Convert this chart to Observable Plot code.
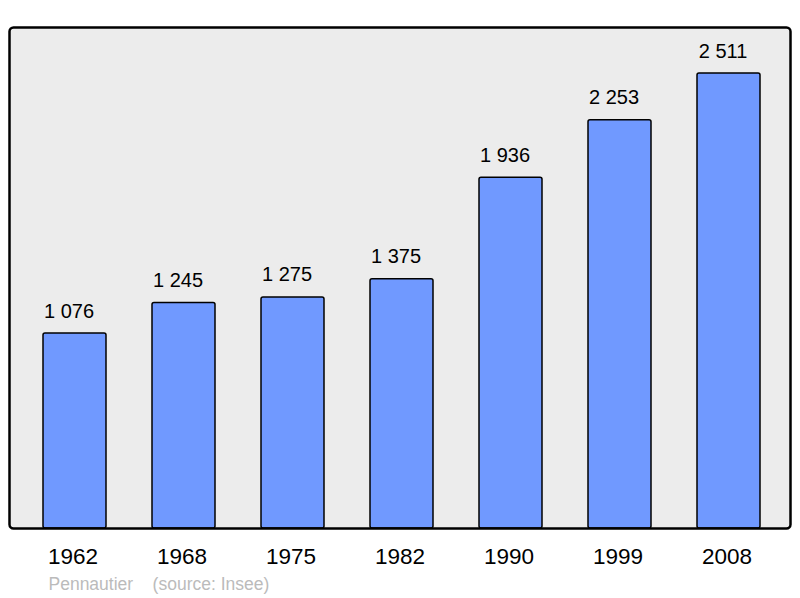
<!DOCTYPE html>
<html>
<head>
<meta charset="utf-8">
<script src="https://cdn.jsdelivr.net/npm/d3@7"></script>
<script src="https://cdn.jsdelivr.net/npm/@observablehq/plot@0.6"></script>
<style>
  html, body { margin: 0; padding: 0; background: #fff; }
  svg { font-family: "Liberation Sans", Arial, sans-serif; }
</style>
</head>
<body>
<div id="chart"></div>
<script>
const years = ["1962", "1968", "1975", "1982", "1990", "1999", "2008"];
const population = [1076, 1245, 1275, 1375, 1936, 2253, 2511];
const captionText = "Pennautier\u00a0\u00a0\u00a0\u00a0(source: Insee)";

const data = years.map((year, i) => ({year, value: population[i]}));
const fmt = d3.formatLocale({thousands: "\u00a0", grouping: [3], decimal: ","}).format(",");

const chart = Plot.plot({
  width: 800,
  height: 598,
  marginTop: 27,
  marginBottom: 70,
  marginLeft: 9,
  marginRight: 10,
  style: {fontFamily: '"Liberation Sans", Arial, sans-serif', background: "#fff"},
  x: {domain: years, range: [19, 784], paddingInner: 0.424, paddingOuter: 0.212, label: null},
  y: {domain: [0, 2765], axis: null},
  marks: [
    Plot.frame({fill: "#ececec", stroke: "none", rx: 4}),
    Plot.barY(data, {x: "year", y: "value", fill: "#7099ff", stroke: "#000", strokeWidth: 1.5, rx: 2}),
    Plot.text(data, {x: "year", y: "value", text: d => fmt(d.value), lineAnchor: "bottom", dy: -16, dx: -6, fontSize: 20, fill: "#000"}),
    Plot.frame({fill: "none", stroke: "#000", strokeWidth: 2.5, rx: 4}),
    Plot.axisX({tickSize: 0, tickPadding: 20, dx: -2, fontSize: 22.5, fill: "#000", label: null}),
    Plot.text([captionText], {frameAnchor: "bottom-left", textAnchor: "start", dx: 39, dy: 61, fontSize: 17.5, fill: "#bbbbbb"})
  ]
});
document.getElementById("chart").appendChild(chart);
</script>
</body>
</html>
